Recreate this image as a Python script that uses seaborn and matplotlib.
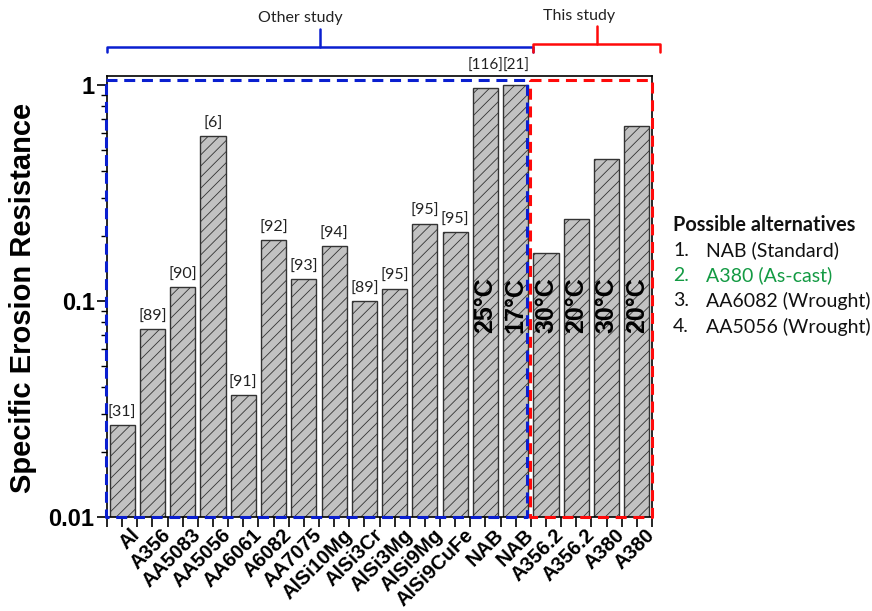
import numpy as np
import pandas as pd
import matplotlib
matplotlib.use("Agg")
import matplotlib.pyplot as plt
import seaborn as sns
from matplotlib.ticker import FixedLocator, LogLocator, NullFormatter, FixedFormatter

# ---------------- data ----------------
materials = ["Al", "A356", "AA5083", "AA5056", "AA6061", "A6082", "AA7075",
             "AlSi10Mg", "AlSi3Cr", "AlSi3Mg", "AlSi9Mg", "AlSi9CuFe",
             "NAB", "NAB", "A356.2", "A356.2", "A380", "A380"]
resistance = [0.0267, 0.074, 0.116, 0.58, 0.0366, 0.191, 0.126,
              0.180, 0.100, 0.114, 0.228, 0.208,
              0.973, 1.0, 0.168, 0.240, 0.454, 0.650]
refs = ["[31]", "[89]", "[90]", "[6]", "[91]", "[92]", "[93]",
        "[94]", "[89]", "[95]", "[95]", "[95]",
        "[116]", "[21]", "", "", "", ""]
temps = ["", "", "", "", "", "", "", "", "", "", "", "",
         "25°C", "17°C", "30°C", "20°C", "30°C", "20°C"]
groups = ["Other study"] * 14 + ["This study"] * 4
alternatives_title = "Possible alternatives"
alternatives_num = ["1.", "2.", "3.", "4."]
alternatives_txt = ["NAB (Standard)", "A380 (As-cast)", "AA6082 (Wrought)", "AA5056 (Wrought)"]
alternatives_col = ["#111111", "#139a43", "#111111", "#111111"]
y_ticks = [0.01, 0.1, 1]
y_ticklabels = ["0.01", "0.1", "1"]

df = pd.DataFrame({"pos": np.arange(len(materials)), "material": materials,
                   "value": resistance, "group": groups})

# ---------------- style ----------------
sns.set_theme(style="ticks")
plt.rcParams["font.family"] = ["Liberation Sans", "DejaVu Sans"]
plt.rcParams["hatch.linewidth"] = 0.6
plt.rcParams["hatch.color"] = "#555555"

W, H = 872, 611
fig = plt.figure(figsize=(W / 100, H / 100), dpi=100)
ax_l, ax_r, ax_t, ax_b = 107, 652, 76, 517
ax = fig.add_axes([ax_l / W, 1 - ax_b / H, (ax_r - ax_l) / W, (ax_b - ax_t) / H])

sns.barplot(data=df, x="pos", y="value", ax=ax, color="#c2c2c2",
            width=0.83, edgecolor="#333333", linewidth=1.0, saturation=1)
for p in ax.patches:
    p.set_hatch("///")
    p.set_edgecolor("#333333")

ax.set_yscale("log")
ytop = 1.104
ax.set_ylim(0.01, ytop)
ax.set_xlim(-0.5, len(materials) - 0.5)
tr = ax.get_xaxis_transform()

# ticks
ax.yaxis.set_major_locator(FixedLocator(y_ticks))
ax.yaxis.set_major_formatter(FixedFormatter(y_ticklabels))
ax.yaxis.set_minor_locator(LogLocator(base=10, subs=np.arange(2, 10)))
ax.yaxis.set_minor_formatter(NullFormatter())
ax.set_xticks(np.arange(len(materials)))
ax.set_xticks(np.arange(len(materials) + 1) - 0.5, minor=True)
ax.set_xticklabels([""] * len(materials))
for i, m in enumerate(materials):
    ax.annotate(m, xy=(i, 0), xycoords=tr, xytext=(6, -6), textcoords="offset points",
                rotation=45, ha="right", va="top", rotation_mode="anchor",
                fontsize=14.5, fontweight="bold", color="black", annotation_clip=False)
for lab in ax.get_yticklabels():
    lab.set_fontsize(17)
    lab.set_fontweight("bold")
ax.tick_params(axis="y", which="major", length=7, width=1.2, direction="out", colors="black", pad=2)
ax.tick_params(axis="y", which="minor", length=4, width=1.0, direction="out", colors="black")
ax.tick_params(axis="x", which="major", length=7, width=1.2, direction="out", colors="black")
ax.tick_params(axis="x", which="minor", length=7, width=1.2, direction="out", colors="black")
for s in ax.spines.values():
    s.set_visible(True)
    s.set_color("black")
    s.set_linewidth(1.2)

ax.set_xlabel("")
ax.set_ylabel("Specific Erosion Resistance", fontsize=21, fontweight="bold", color="black")
ax.yaxis.set_label_coords(-0.128, 0.497)

# reference labels above bars
log_top = np.log10(ytop)
for i, (v, r) in enumerate(zip(resistance, refs)):
    if not r:
        continue
    if np.log10(v) + 20 / 216 > log_top:
        ax.annotate(r, xy=(i, ytop), xytext=(0, 2), textcoords="offset points",
                    ha="center", va="bottom", fontsize=11, family="Lato",
                    color="#222222", annotation_clip=False)
    else:
        ax.annotate(r, xy=(i, v), xytext=(0, 4), textcoords="offset points",
                    ha="center", va="bottom", fontsize=11.5, family="Lato",
                    color="#222222", annotation_clip=False)

# temperature labels inside bars
for i, t in enumerate(temps):
    if t:
        ax.text(i, 0.48, t, transform=tr, rotation=90, ha="center", va="center",
                fontsize=18, fontweight="bold", color="black")

# dashed group boxes (data x, axes y)
n_other = groups.count("Other study")
yb, yt = 0.0, 0.991
bx0, bx1 = -0.53, n_other - 0.63
rx0, rx1 = n_other - 0.54, len(materials) - 0.51
dash = (0, (3.6, 2.2))
ax.plot([bx0, bx1, bx1, bx0, bx0], [yt, yt, yb, yb, yt], transform=tr,
        color="#0a1fd0", lw=2.2, ls=dash, clip_on=False, zorder=5)
ax.plot([rx0, rx1, rx1, rx0, rx0], [yt, yt, yb, yb, yt], transform=tr,
        color="#ff0a0a", lw=2.2, ls=dash, clip_on=False, zorder=6)

# brackets
def bracket(x0, x1, xm, yh, yhook, ystem, color):
    ax.plot([x0, x0, x1, x1], [yhook, yh, yh, yhook], transform=tr, color=color,
            lw=1.8, clip_on=False, solid_joinstyle="round")
    ax.plot([xm, xm], [yh, ystem], transform=tr, color=color, lw=1.8, clip_on=False)

bracket(-0.5, n_other - 0.44, 6.53, 1.0664, 1.0551, 1.1059, "#0a1fd0")
bracket(n_other - 0.42, len(materials) - 0.25, 15.67, 1.0719, 1.0551, 1.1134, "#ff0a0a")
ax.text(5.9, 1.1315, "Other study", transform=tr, ha="center", va="center",
        fontsize=11.5, family="Lato", color="#222222")
ax.text(15.1, 1.137, "This study", transform=tr, ha="center", va="center",
        fontsize=11.5, family="Lato", color="#222222")

# side list of alternatives
fig.text(673 / W, 1 - 225 / H, alternatives_title, ha="left", va="center",
         fontsize=14.3, fontweight="bold", family="Lato", color="#111111")
for k, (n, t, c) in enumerate(zip(alternatives_num, alternatives_txt, alternatives_col)):
    yy = 1 - (250 + 25.5 * k) / H
    fig.text(673 / W, yy, n, ha="left", va="center", fontsize=14, family="Lato", color=c)
    fig.text(706 / W, yy, t, ha="left", va="center", fontsize=14, family="Lato", color=c)

fig.savefig("out.png", dpi=100)
